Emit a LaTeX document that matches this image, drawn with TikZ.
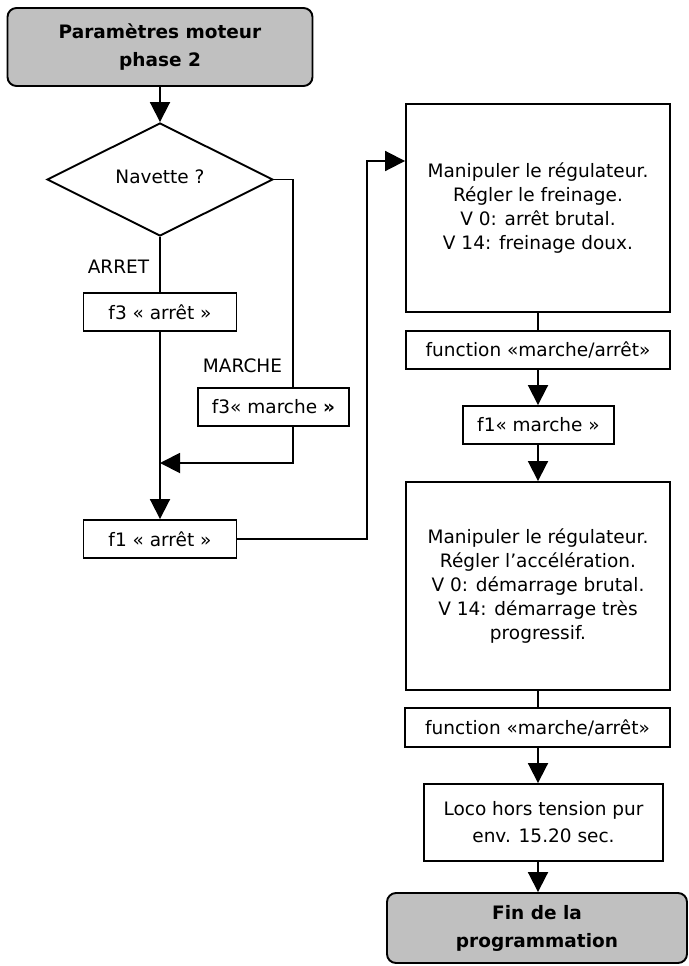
\documentclass[tikz,border=0pt]{standalone}
\usepackage{fontspec}
\setmainfont{DejaVu Sans}
\usetikzlibrary{arrows.meta,shapes.geometric}
\definecolor{boxgray}{RGB}{192,192,192}
\begin{document}
\begin{tikzpicture}[x=1pt,y=-1pt,
  line width=1.9pt,
  tri/.style={-{Triangle[length=20pt,width=20pt]}},
  base/.style={draw,line width=1.9pt,inner sep=0pt,align=center,font=\fontsize{18.5}{24}\selectfont},
  term/.style={base,rectangle,rounded corners=9pt,fill=boxgray,font=\fontsize{18.5}{28}\selectfont\bfseries},
  proc/.style={base,rectangle},
  lbl/.style={inner sep=0pt,font=\fontsize{18.5}{24}\selectfont}]
\useasboundingbox (0,0) rectangle (688,966);

\node[term, minimum width=305pt, minimum height=78pt] (start) at (160,47) {Paramètres moteur\\phase 2};
\node[base, diamond, aspect=2, minimum width=226pt, minimum height=113pt] (dia) at (160,179.5) {\raisebox{5pt}{Navette ?}};
\node[lbl] (arret) at (118.5,267) {ARRET};
\node[proc, minimum width=153pt, minimum height=38pt] (f3a) at (160,312) {f3 « arrêt »};
\node[lbl] (marche) at (242.5,366) {MARCHE};
\node[proc, minimum width=151pt, minimum height=38pt] (f3m) at (273.5,407) {f3« marche \textbf{»}};
\node[proc, minimum width=153pt, minimum height=38pt] (f1a) at (160,539) {f1 « arrêt »};

\coordinate (mx) at (293,0);
\coordinate (junc) at (160,463);
\coordinate (rx) at (367,0);
\coordinate (ay) at (0,161);

\node[proc, minimum width=264pt, minimum height=208pt] (b1) at (538,208) {Manipuler le régulateur.\\Régler le freinage.\\V 0: arrêt brutal.\\V 14: freinage doux.};
\node[proc, minimum width=264pt, minimum height=38pt] (fn1) at (538,350) {function «marche/arrêt»};
\node[proc, minimum width=151pt, minimum height=38pt] (f1m) at (538.5,425) {f1« marche »};
\node[proc, minimum width=264pt, minimum height=208pt] (b2) at (538,586) {Manipuler le régulateur.\\Régler l’accélération.\\V 0: démarrage brutal.\\V 14: démarrage très\\progressif.};
\node[proc, minimum width=265pt, minimum height=39pt] (fn2) at (537.5,727.5) {function «marche/arrêt»};
\node[proc, minimum width=239pt, minimum height=77pt, font=\fontsize{18.5}{27}\selectfont] (loco) at (543.5,822.5) {Loco hors tension pur\\env. 15.20 sec.};
\node[term, minimum width=300pt, minimum height=70pt] (fin) at (537,928) {Fin de la\\programmation};

\draw[tri] (start.south) -- (dia.north);
\draw (dia.south) -- (f3a.north);
\draw (dia.east) -| (mx |- f3m.north);
\draw[tri] (f3a.south) -- (f1a.north);
\draw[tri] (mx |- f3m.south) |- (junc);
\draw[tri] (f1a.east) -| (rx |- ay) -- (b1.west |- ay);
\draw (b1.south) -- (fn1.north);
\draw[tri] (fn1.south) -- (f1m.north -| fn1.south);
\draw[tri] (f1m.south -| fn1.south) -- (b2.north -| fn1.south);
\draw (b2.south) -- (fn2.north -| b2.south);
\draw[tri] (fn2.south -| b2.south) -- (loco.north -| b2.south);
\draw[tri] (loco.south -| b2.south) -- (fin.north -| b2.south);
\end{tikzpicture}
\end{document}
